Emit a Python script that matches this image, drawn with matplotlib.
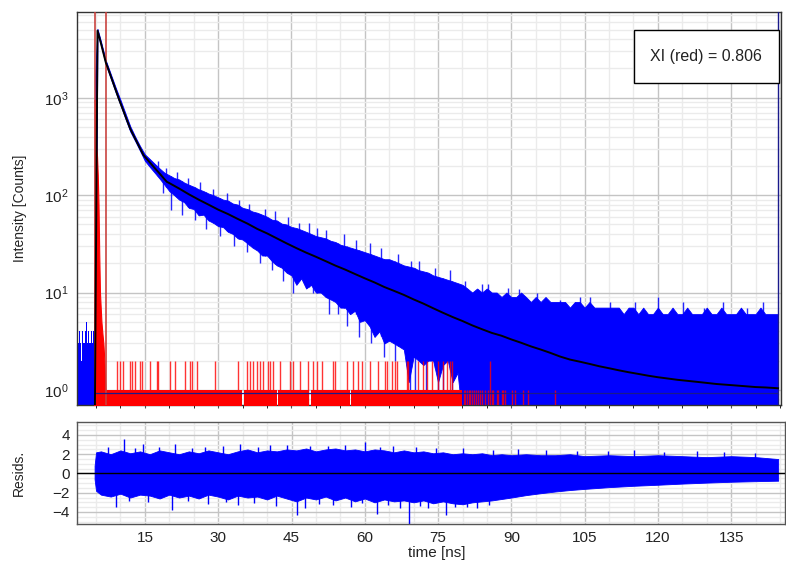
import matplotlib
matplotlib.use("Agg")
import numpy as np
import matplotlib.pyplot as plt
from matplotlib.patches import Rectangle
from matplotlib.ticker import MultipleLocator, FixedLocator, LogLocator, NullFormatter

plt.rcParams['font.family'] = ['Liberation Sans', 'DejaVu Sans']
plt.rcParams['mathtext.fontset'] = 'custom'
plt.rcParams['mathtext.rm'] = 'Liberation Sans'
plt.rcParams['mathtext.it'] = 'Liberation Sans:italic'

# ---------------- data ----------------
# blue decay before the excitation pulse (counts)
pre_t = [1.1, 1.3, 1.5, 1.7, 1.9, 2.1, 2.3, 2.5, 2.7, 2.9, 3.1, 3.3, 3.5, 3.7, 3.9, 4.1, 4.3, 4.5, 4.7]
pre_counts = [3, 3, 4, 3, 2, 4, 3, 3, 4, 5, 3, 4, 3, 3, 4, 3, 4, 3, 3]

# blue decay band: upper / lower envelope of the noisy counts
band_t = [4.75, 5.3, 6, 7, 8, 9, 10, 11, 12, 13, 14, 15, 16, 17, 18, 19, 20,
          21, 22, 23, 24, 25, 26, 27, 28, 29, 30, 31, 32, 33, 34, 35, 36, 37, 38, 39, 40,
          41, 42, 43, 44, 45, 46, 47, 48, 49, 50, 51, 52, 53, 54, 55, 56, 57, 58, 59, 60,
          61, 62, 63, 64, 65, 66, 67, 68, 69, 70, 71, 72, 73, 74, 75, 76, 77, 78, 79, 80,
          81, 82, 83, 84, 85, 86, 87, 88, 89, 90, 91, 92, 93, 94, 95, 96, 97, 98, 99, 100,
          101, 102, 103, 104, 105, 106, 107, 108, 109, 110, 111, 112, 113, 114, 115, 116, 117, 118, 119, 120,
          121, 122, 123, 124, 125, 126, 127, 128, 129, 130, 131, 132, 133, 134, 135, 136, 137, 138, 139, 140,
          141, 142, 143, 144, 144.6]
band_upper = [1500, 5100, 3800, 2420, 1760, 1280, 950, 695, 510, 400, 320, 262, 235, 210, 188, 170, 160,
              150, 145, 135, 128, 122, 115, 110, 104, 100, 95, 90, 88, 82, 80, 74, 72, 68, 66, 63, 60,
              56, 55, 51, 50, 47, 46, 44, 42, 40, 38, 37, 36, 34, 33, 31, 30, 29, 28, 27, 26,
              25, 24, 23, 22, 22, 21, 20, 19, 18.5, 18, 17, 16.5, 16, 15, 14.5, 14, 13.5, 13, 12.5, 12,
              11, 10, 11, 10, 11, 10, 10, 9, 10, 9, 9, 10, 9, 8, 9, 8, 9, 8, 8, 8,
              8, 7, 8, 8, 7, 8, 7, 7, 7, 7, 7, 7, 6, 7, 7, 6, 7, 6, 6, 7,
              6, 6, 7, 6, 6, 7, 6, 6, 6, 7, 6, 6, 7, 6, 6, 6, 7, 6, 6, 6,
              7, 6, 6, 6, 6]
band_lower = [0.5, 4700, 3450, 2190, 1580, 1140, 840, 610, 450, 360, 285, 225, 195, 170, 148, 128, 110,
              100, 90, 85, 74, 72, 62, 63, 55, 52, 48, 47, 42, 40, 36, 35, 32, 29, 27, 24, 24,
              21, 19, 18, 16, 15, 12, 14, 11, 12, 10, 10, 9, 8.5, 8, 7, 7, 6, 6.5, 5, 5.2,
              4.5, 3.5, 4, 3, 3.2, 3, 2.8, 2.6, 1.2, 2.2, 2, 1.8, 2, 2, 1.2, 1.8, 2, 1.2, 1.5, 0.5,
              0.5, 0.5, 0.5, 0.5, 0.5, 0.5, 0.5, 0.5, 0.5, 0.5, 0.5, 0.5, 0.5, 0.5, 0.5, 0.5, 0.5, 0.5, 0.5, 0.5,
              0.5, 0.5, 0.5, 0.5, 0.5, 0.5, 0.5, 0.5, 0.5, 0.5, 0.5, 0.5, 0.5, 0.5, 0.5, 0.5, 0.5, 0.5, 0.5, 0.5,
              0.5, 0.5, 0.5, 0.5, 0.5, 0.5, 0.5, 0.5, 0.5, 0.5, 0.5, 0.5, 0.5, 0.5, 0.5, 0.5, 0.5, 0.5, 0.5, 0.5,
              0.5, 0.5, 0.5, 0.5, 0.5]

# isolated blue spikes above / below the dense band
spike_up_t = [17.6, 19.3, 21.5, 23.8, 26.3, 28.9, 31.8, 34.2, 36.4, 39.5, 41.7, 44.2, 46.6, 48.5, 50.3,
              52.1, 55.7, 58.3, 61.0, 63.4, 66.8, 69.5, 71.2, 74.4, 77.5, 80.6,
              83.9, 85.2, 89.4, 91.6, 95.3, 99.9, 104.0, 106.1, 110.2, 115.3, 120.1, 125.2, 129.4, 133.4, 138.2, 141.6]
spike_up_val = [225, 190, 172, 150, 135, 115, 104, 90, 82, 72, 68, 60, 52, 52, 46,
                44, 40, 35, 32, 29, 25, 21, 21, 18, 17, 13,
                12.3, 12.3, 11.2, 11, 10, 8.4, 9, 9, 8, 8, 9, 8, 7, 8, 7, 8]
spike_dn_t = [18.8, 20.4, 22.6, 25.3, 27.5, 30.4, 33.2, 35.9, 38.6, 41.1, 43.3, 45.4, 49.4, 52.7, 54.5,
              56.3, 58.9, 61.2, 63.9, 66.1, 69.2, 70.3, 72.6, 75.0, 76.0, 77.8]
spike_dn_val = [105, 70, 62, 55, 45, 38, 30, 26, 20, 17, 13, 9.9, 9.9, 6, 6,
                4.5, 3.5, 3, 2.2, 2, 1, 1, 1, 1, 1, 1]

# fitted decay curve
fit_t = [4.75, 5.3, 6, 7, 7.2, 8, 9, 9.75, 10, 11, 12, 13, 14, 14.7, 15, 16, 17, 18, 19, 19.5, 20,
         22, 24, 26, 28, 30, 32, 34, 36, 38, 40, 42, 44, 46, 48, 50, 52, 54, 56, 58, 60,
         62, 64, 66, 68, 70, 72, 74, 76, 78, 80, 82, 84, 86, 88, 90, 92, 94, 96, 98, 100,
         102, 104, 106, 108, 110, 112, 114, 116, 118, 120, 122, 124, 126, 128, 130, 132, 134, 136, 138, 140,
         142, 144, 144.6]
fit_counts = [0.5, 4900, 3630, 2300, 2170, 1675, 1210, 950, 880, 650, 480, 381, 303, 258, 248, 217, 190, 167, 146, 137, 133,
              117, 102, 90, 80, 71, 64, 57, 51, 45, 40.5, 36, 32, 28.6, 25.7, 23.3, 21, 18.9, 17.2, 15.5, 14,
              12.7, 11.4, 10.4, 9.46, 8.5, 7.7, 6.9, 6.2, 5.6, 5.1, 4.6, 4.2, 3.85, 3.6, 3.3, 3.05, 2.8, 2.6, 2.4, 2.2,
              2.05, 1.95, 1.85, 1.75, 1.67, 1.59, 1.52, 1.46, 1.40, 1.35, 1.31, 1.27, 1.24, 1.21, 1.18, 1.15, 1.13, 1.11, 1.09, 1.07,
              1.06, 1.045, 1.04]

# instrument response (red)
irf_t = [4.60, 4.72, 4.78, 4.85, 4.95, 5.05, 5.2, 5.35, 5.5, 5.65, 5.8, 5.95, 6.1, 6.3, 6.5, 6.7, 6.9]
irf_counts = [0.5, 950, 900, 600, 420, 300, 250, 160, 80, 25, 10, 7, 5, 3.8, 3, 2, 1]
irf_base_start = [6.9, 35.2, 42.3, 48.9, 57.1]
irf_base_end = [34.9, 42.0, 48.6, 56.9, 80.0]
irf_two_t = [9.21, 9.89, 10.56, 11.93, 12.28, 12.96, 13.98, 14.33, 16.03, 17.40, 17.72, 20.12, 21.14,
             23.19, 24.21, 24.56, 25.58, 29.33, 34.10, 35.82, 36.49, 37.17, 37.86, 38.54, 39.21, 40.24,
             40.59, 41.26, 42.63, 44.68, 45.35, 46.73, 48.42, 49.45, 50.14, 51.17, 53.54, 53.89, 56.28,
             57.63, 58.66, 59.35, 61.05, 62.75, 64.12, 64.47, 65.49, 66.17, 66.51, 68.56, 68.89, 70.94,
             71.96, 72.66, 73.68, 75.03, 76.05, 76.75, 77.42, 77.77, 85.61]
irf_one_t = [80.3, 80.6, 80.9, 81.3, 81.6, 82.0, 82.3, 82.8, 83.1, 83.5, 83.9,
             84.6, 85.3, 85.96, 86.3, 87.0, 87.3, 88.0, 88.3, 88.7, 90.05, 90.7, 92.4, 93.45, 98.9]

window_lines = [4.7, 7.0]
background = 0.925
cursor_t = 144.6
chi_text = "XI (red) = 0.806"

# residuals band
res_t = [4.7, 5.0, 6, 8, 10, 12, 14, 16, 18, 20, 22, 24, 26, 28, 30, 32, 34, 36, 38, 40, 42, 44,
         46, 48, 50, 52, 54, 56, 58, 60, 62, 64, 66, 68, 70, 72, 74, 76, 78, 80, 82, 84, 86, 88,
         90, 93, 96, 99, 102, 105, 110, 115, 120, 125, 130, 135, 140, 144.6]
res_upper = [0.8, 2.2, 2.3, 2.0, 2.4, 2.1, 2.3, 2.0, 2.4, 2.2, 2.0, 2.3, 2.1, 2.4, 2.2, 2.0, 2.3, 2.5, 2.2, 2.4, 2.3, 2.5,
             2.4, 2.6, 2.3, 2.5, 2.6, 2.4, 2.5, 2.3, 2.5, 2.4, 2.2, 2.4, 2.2, 2.3, 2.1, 2.2, 2.0, 2.1, 2.0, 2.1, 1.9, 2.0,
             1.9, 2.0, 1.9, 1.9, 2.0, 1.8, 1.9, 1.8, 1.9, 1.8, 1.7, 1.8, 1.7, 1.5]
res_lower = [-0.6, -1.8, -2.2, -2.4, -2.1, -2.5, -2.2, -2.3, -2.6, -2.2, -2.5, -2.3, -2.6, -2.2, -2.4, -2.7, -2.3, -2.5, -2.4, -2.7, -2.3, -2.6,
             -2.9, -2.5, -2.7, -2.4, -2.8, -2.5, -2.9, -2.6, -3.0, -2.7, -2.9, -2.8, -3.0, -2.8, -3.1, -2.9, -3.1, -3.2, -3.0, -2.9, -2.8, -2.65,
             -2.5, -2.25, -2.05, -1.87, -1.72, -1.6, -1.42, -1.28, -1.17, -1.05, -0.95, -0.86, -0.8, -0.75]
res_spike_t = [7.5, 10.7, 12.9, 14.6, 17.8, 21.2, 24.6, 27.3, 30.9, 34.5, 38.2, 40.7, 44.0, 48.8, 52.5, 55.9,
               60.0, 63.1, 65.8, 70.4, 74.5, 80.0, 86.2, 91.4, 97.0, 103.5, 109.8, 115.0, 121.3, 128.0, 133.6, 139.9,
               9.0, 11.8, 15.7, 20.6, 23.9, 27.9, 31.5, 34.0, 37.3, 41.9, 46.1, 47.8, 50.6, 53.5, 57.2, 59.4,
               62.5, 64.8, 67.3, 69.1, 71.2, 73.0, 76.6, 78.4, 81.0, 83.0, 85.4]
res_spike_val = [2.8, 3.6, 2.7, 3.1, 2.8, 3.1, 2.7, 2.8, 2.9, 3.1, 2.8, 3.0, 3.0, 2.9, 2.9, 3.0,
                 3.3, 2.8, 2.9, 2.8, 2.7, 2.6, 2.4, 2.5, 2.4, 2.3, 2.3, 2.4, 2.2, 2.3, 2.2, 2.1,
                 -3.5, -2.9, -3.0, -3.8, -2.9, -3.2, -3.0, -3.3, -3.1, -3.4, -4.3, -3.6, -3.2, -3.3, -3.5, -3.1,
                 -4.2, -3.3, -3.6, -5.3, -3.4, -3.6, -4.3, -3.5, -3.5, -3.6, -3.3]

x_ticks = [15, 30, 45, 60, 75, 90, 105, 120, 135]
res_ticks = [-4, -2, 0, 2, 4]

# ---------------- figure ----------------
W, H = 786, 564
fig = plt.figure(figsize=(W / 100, H / 100), dpi=100)
ax = fig.add_axes([77 / W, 1 - 405 / H, (781 - 77) / W, (405 - 12) / H])
axr = fig.add_axes([77 / W, 1 - 524 / H, (785 - 77) / W, (524 - 422) / H])

BLUE = '#0000ff'
RED = '#ff0000'
MAJ = '#c4c4c4'
MIN = '#ebebeb'

# main panel
ax.set_yscale('log')
ax.set_xlim(1.1, 145.2)
ax.set_ylim(0.70, 7600)
ax.set_axisbelow(True)
ax.xaxis.set_major_locator(FixedLocator(x_ticks))
ax.xaxis.set_minor_locator(MultipleLocator(5))
ax.yaxis.set_major_locator(LogLocator(base=10, numticks=10))
ax.yaxis.set_minor_locator(LogLocator(base=10, subs=range(2, 10), numticks=50))
ax.yaxis.set_minor_formatter(NullFormatter())
ax.grid(which='major', color=MAJ, lw=1.0)
ax.grid(which='minor', color=MIN, lw=1.0)
ax.tick_params(axis='x', labelbottom=False, length=2, color='#555555')
ax.tick_params(axis='y', which='major', length=0, labelsize=11, colors='#222222', pad=6)
ax.tick_params(axis='y', which='minor', length=0)
for s in ax.spines.values():
    s.set_color('#333333')
    s.set_linewidth(1.0)

ax.fill_between(pre_t, 0.5, pre_counts, step='post', color=BLUE, lw=0, zorder=2)
ax.fill_between(band_t, band_lower, band_upper, color=BLUE, lw=0.6, edgecolor=BLUE, zorder=2)
up_base = np.interp(spike_up_t, band_t, band_lower)
dn_base = np.interp(spike_dn_t, band_t, band_upper)
ax.vlines(spike_up_t, up_base, spike_up_val, color=BLUE, lw=1.0, alpha=0.85, zorder=2)
ax.vlines(spike_dn_t, spike_dn_val, dn_base, color=BLUE, lw=1.0, alpha=0.85, zorder=2)

# IRF
ax.fill_between(irf_t, 0.5, irf_counts, color=RED, lw=0.8, edgecolor=RED, zorder=3)
for a, b in zip(irf_base_start, irf_base_end):
    ax.fill_between([a, b], 0.5, 1.0, color=RED, lw=0, zorder=3)
ax.vlines(irf_two_t, [0.5] * len(irf_two_t), [2] * len(irf_two_t), color=RED, lw=1.0, alpha=0.8, zorder=3)
ax.vlines(irf_one_t, [0.5] * len(irf_one_t), [1] * len(irf_one_t), color=RED, lw=1.0, alpha=0.8, zorder=3)

ax.plot(fit_t, fit_counts, color='black', lw=1.4, zorder=5)
for xv in window_lines:
    ax.axvline(xv, color='#c8403c', lw=1.3, alpha=0.9, zorder=4)
ax.hlines(background, 4.75, cursor_t, color='#1a1a8c', lw=0.9, zorder=4)
ax.axvline(cursor_t, color='#1a1a8c', lw=1.0, zorder=4)

ax.set_ylabel('Intensity [Counts]', fontsize=10, color='#222222')
ax.yaxis.set_label_coords((27 - 77) / (781 - 77), 0.5)

# chi-square box
fig.patches.append(Rectangle((634 / W, 1 - 83 / H), (779 - 634) / W, (83 - 30) / H,
                             transform=fig.transFigure, fc='white', ec='black', lw=1.0, zorder=10))
fig.text(706 / W, 1 - 57 / H, chi_text, fontsize=11.5, color='#222222', ha='center', va='center', zorder=11)

# residual panel
axr.set_xlim(1.1, 146.0)
axr.set_ylim(-5.25, 5.35)
axr.set_axisbelow(True)
axr.xaxis.set_major_locator(FixedLocator(x_ticks))
axr.xaxis.set_minor_locator(MultipleLocator(5))
axr.yaxis.set_major_locator(FixedLocator(res_ticks))
axr.yaxis.set_minor_locator(MultipleLocator(0.5))
axr.grid(which='major', color=MAJ, lw=1.0)
axr.grid(which='minor', color=MIN, lw=1.0)
axr.tick_params(axis='both', which='major', length=0, labelsize=11, colors='#222222', pad=5)
axr.tick_params(axis='both', which='minor', length=0)
for s in axr.spines.values():
    s.set_color('#555555')
    s.set_linewidth(1.0)

axr.fill_between(res_t, res_lower, res_upper, color=BLUE, lw=0.6, edgecolor=BLUE, zorder=2)
axr.vlines(res_spike_t, [0] * len(res_spike_t), res_spike_val, color=BLUE, lw=1.0, zorder=2)
axr.axhline(0, color='black', lw=1.0, zorder=3)
axr.set_ylabel('Resids.', fontsize=10, color='#222222')
axr.yaxis.set_label_coords((26 - 77) / (785 - 77), 0.5)
axr.set_xlabel('time [ns]', fontsize=11, color='#222222')
axr.xaxis.set_label_coords((437 - 77) / (785 - 77), -0.215)

fig.savefig('out.png', dpi=100)
